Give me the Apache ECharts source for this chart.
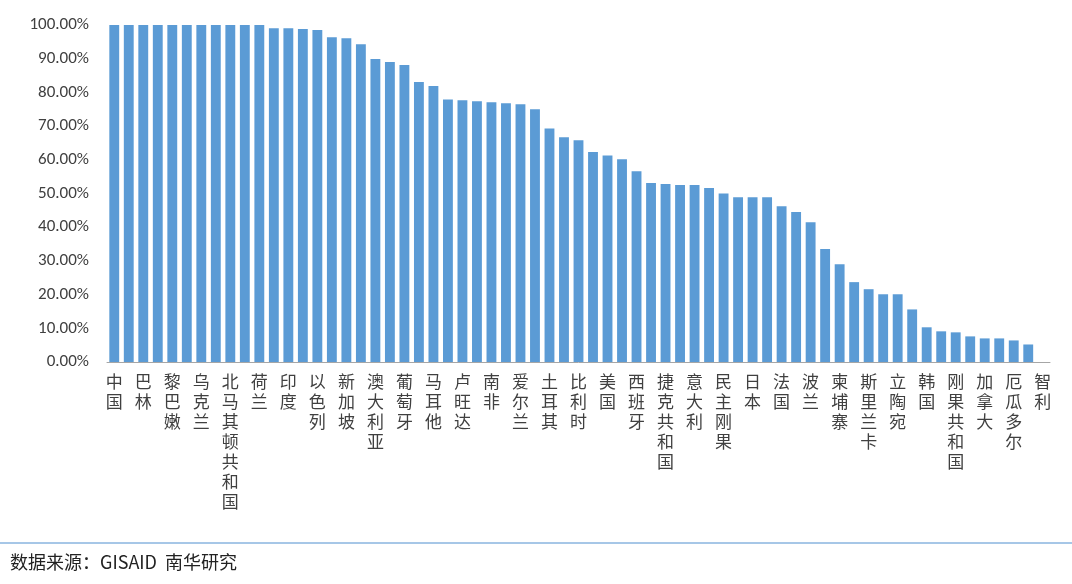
<!DOCTYPE html>
<html>
<head>
<meta charset="utf-8">
<script src="https://cdn.jsdelivr.net/npm/echarts@6/dist/echarts.min.js"></script>
<style>html,body{margin:0;padding:0;background:#fff}#main{width:1072px;height:584px}</style>
</head>
<body>
<div id="main"></div>
<script>
// 国家（未标注的柱子用空字符串）
var countries = ['中国','','巴林','','黎巴嫩','','乌克兰','','北马其顿共和国','','荷兰','','印度','','以色列','',
    '新加坡','','澳大利亚','','葡萄牙','','马耳他','','卢旺达','','南非','','爱尔兰','','土耳其','',
    '比利时','','美国','','西班牙','','捷克共和国','','意大利','','民主刚果','','日本','','法国','',
    '波兰','','柬埔寨','','斯里兰卡','','立陶宛','','韩国','','刚果共和国','','加拿大','','厄瓜多尔','','智利'];
var ratios = [100,100,100,100,100,100,100,100,100,100,100,99.0,99.0,98.8,98.5,96.4,
    96.1,94.3,89.9,89.0,88.1,83.1,81.9,77.9,77.7,77.4,77.1,76.8,76.5,75.0,69.3,66.7,
    65.8,62.3,61.3,60.2,56.6,53.1,52.8,52.5,52.5,51.6,50.0,48.9,48.9,48.9,46.2,44.5,
    41.5,33.5,29.0,23.7,21.6,20.1,20.1,15.6,10.3,9.1,8.8,7.6,7.0,7.0,6.4,5.2,0];

var myChart = echarts.init(document.getElementById('main'));
var option = {
    animation: false,
    textStyle: {fontFamily: 'Noto Sans CJK SC'},
    grid: {left: 107, right: 22, top: 25, bottom: 222},
    xAxis: {
        type: 'category',
        data: countries,
        axisTick: {show: false},
        axisLine: {lineStyle: {color: '#a6a6a6'}},
        axisLabel: {
            interval: 0,
            color: '#404040',
            fontSize: 17,
            lineHeight: 20,
            verticalAlign: 'top',
            margin: 10,
            formatter: function (v) { return v.split('').join('\n'); }
        }
    },
    yAxis: {
        type: 'value',
        min: 0, max: 100, interval: 10,
        splitLine: {show: false},
        axisLine: {show: false},
        axisLabel: {
            color: '#404040', fontSize: 17, fontFamily: 'Carlito, Liberation Sans',
            margin: 18,
            formatter: function (v) { return v.toFixed(2) + '%'; }
        }
    },
    series: [{
        type: 'bar',
        data: ratios,
        barCategoryGap: '32%',
        itemStyle: {color: '#5b9bd5'}
    }],
    graphic: [
        {type: 'line', shape: {x1: 0, y1: 543, x2: 1072, y2: 543}, style: {stroke: '#4f8fcf', lineWidth: 1}},
        {type: 'text', left: 10, top: 553, style: {text: '数据来源：GISAID  南华研究', fontSize: 18, fill: '#222', fontFamily: 'Noto Sans CJK SC'}}
    ]
};
myChart.setOption(option);
</script>
</body>
</html>
